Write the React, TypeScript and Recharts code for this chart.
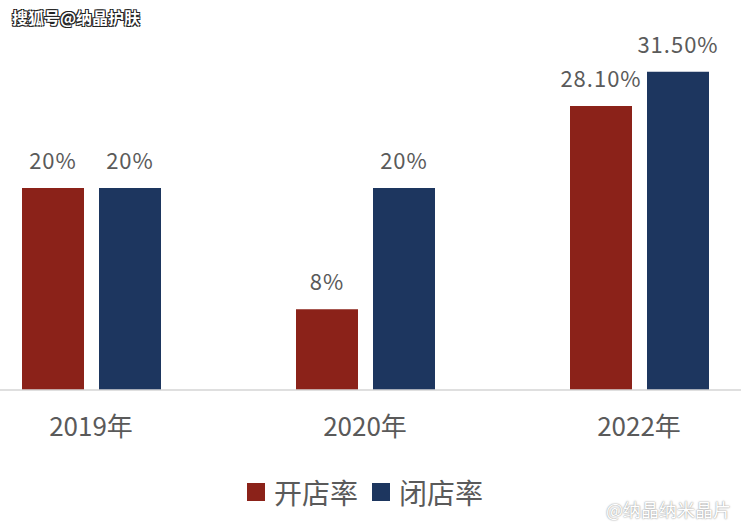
import React from "react";
import { Bar, BarChart, LabelList, Legend, XAxis, YAxis } from "recharts";

// 开店率 / 闭店率 by year, in percent
const years = ["2019年", "2020年", "2022年"];
const openRate = [20, 8, 28.1];
const closeRate = [20, 20, 31.5];

const OPEN_COLOR = "#8B2219";
const CLOSE_COLOR = "#1D365F";
const TEXT = "#5a5a5a";
const FONT = "'Noto Sans CJK SC', 'Noto Sans', sans-serif";

const data = years.map((year, i) => ({
  year,
  open: openRate[i],
  close: closeRate[i],
}));

const fmt = (v: number) => (Number.isInteger(v) ? `${v}%` : `${v.toFixed(2)}%`);

function LegendContent() {
  const items = [
    { label: "开店率", color: OPEN_COLOR },
    { label: "闭店率", color: CLOSE_COLOR },
  ];
  return (
    <div
      style={{
        height: 60,
        display: "flex",
        justifyContent: "center",
        alignItems: "center",
        paddingBottom: 16,
        boxSizing: "border-box",
        fontFamily: FONT,
      }}
    >
      {items.map((it, i) => (
        <div
          key={it.label}
          style={{ display: "flex", alignItems: "center", marginLeft: i === 0 ? 0 : 14 }}
        >
          <span style={{ width: 18, height: 18, background: it.color, display: "inline-block" }} />
          <span style={{ marginLeft: 9, fontSize: 28, color: TEXT, lineHeight: 1 }}>{it.label}</span>
        </div>
      ))}
    </div>
  );
}

const labelStyle = { fontSize: 22, fill: TEXT, fontFamily: FONT, letterSpacing: 1 };

export default function App() {
  return (
    <div
      style={{
        position: "absolute",
        left: 0,
        top: 0,
        width: 741,
        height: 530,
        overflow: "hidden",
        background: "#ffffff",
      }}
    >
      <div style={{ position: "absolute", left: -46, top: 0 }}>
        <BarChart
          width={822}
          height={530}
          data={data}
          margin={{ top: 6, right: 0, left: 0, bottom: 0 }}
          barSize={62}
          barGap={15}
        >
          <XAxis
            dataKey="year"
            height={80}
            axisLine={{ stroke: "#d4d4d4", strokeWidth: 1.5 }}
            tickLine={false}
            tickMargin={22}
            tick={{ fontSize: 26, fill: TEXT, fontFamily: FONT }}
          />
          <YAxis hide domain={[0, 38]} />
          <Legend verticalAlign="bottom" content={() => <LegendContent />} />
          <Bar dataKey="open" name="开店率" fill={OPEN_COLOR} isAnimationActive={false}>
            <LabelList
              dataKey="open"
              position="top"
              offset={19}
              formatter={(v: number) => fmt(v)}
              style={labelStyle}
            />
          </Bar>
          <Bar dataKey="close" name="闭店率" fill={CLOSE_COLOR} isAnimationActive={false}>
            <LabelList
              dataKey="close"
              position="top"
              offset={19}
              formatter={(v: number) => fmt(v)}
              style={labelStyle}
            />
          </Bar>
        </BarChart>
      </div>
      <div
        style={{
          position: "absolute",
          left: 12,
          top: 5,
          fontFamily: FONT,
          fontWeight: 700,
          fontSize: 16,
          color: "#ffffff",
          whiteSpace: "nowrap",
          textShadow: "1px 1px 0 #222, -1px -1px 0 #222, 1px -1px 0 #222, -1px 1px 0 #222",
        }}
      >
        搜狐号@纳晶护肤
      </div>
      <div
        style={{
          position: "absolute",
          left: 606,
          top: 496,
          fontFamily: FONT,
          fontSize: 18,
          color: "#ffffff",
          whiteSpace: "nowrap",
          textShadow: "0 0 2px #999, 0 0 1px #aaa",
        }}
      >
        @纳晶纳米晶片
      </div>
    </div>
  );
}
